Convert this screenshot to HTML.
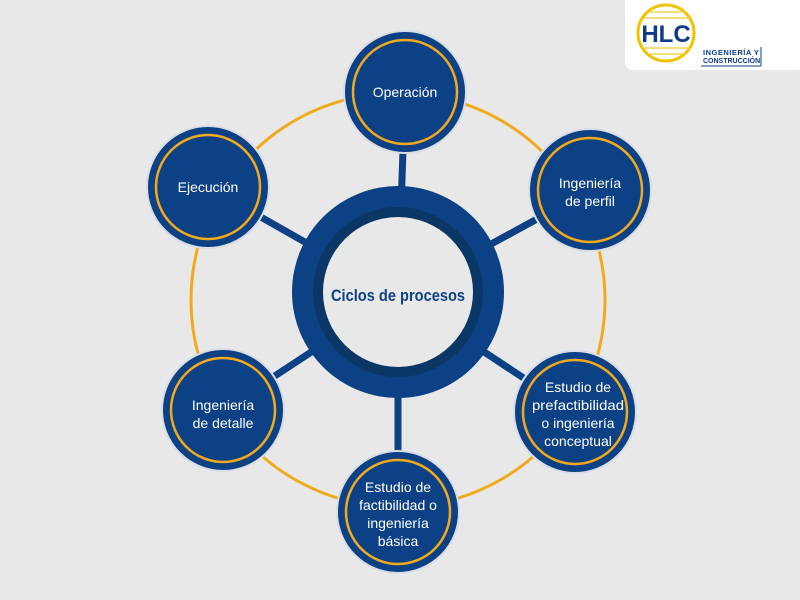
<!DOCTYPE html>
<html><head><meta charset="utf-8"><style>
body{margin:0;background:#e8e8e8;}
svg{display:block}
text{font-family:"Liberation Sans",sans-serif;}
</style></head><body>
<svg width="800" height="600" viewBox="0 0 800 600" xmlns="http://www.w3.org/2000/svg">
<rect width="800" height="600" fill="#e8e8e8"/>
<circle cx="398" cy="300" r="207" fill="none" stroke="#f2aa1c" stroke-width="3"/>
<g stroke="#0d4185" stroke-width="7">
<line x1="398" y1="295" x2="405" y2="92"/>
<line x1="398" y1="295" x2="590" y2="190"/>
<line x1="398" y1="295" x2="208" y2="187"/>
<line x1="398" y1="295" x2="223" y2="410"/>
<line x1="398" y1="295" x2="398" y2="512"/>
<line x1="398" y1="295" x2="575" y2="412"/>
</g>
<circle cx="398" cy="292" r="106" fill="#0d4185"/>
<circle cx="398" cy="292" r="85" fill="#0b3766"/>
<circle cx="398" cy="292" r="75" fill="#e8e8e8"/>
<text x="398" y="301" text-anchor="middle" font-size="17" font-weight="bold" fill="#0d4185" textLength="134" lengthAdjust="spacingAndGlyphs">Ciclos de procesos</text>
<g fill="#0d4185" stroke="#d8dde6" stroke-width="2">
<circle cx="405" cy="92" r="61"/><circle cx="590" cy="190" r="61"/><circle cx="208" cy="187" r="61"/>
<circle cx="223" cy="410" r="61"/><circle cx="398" cy="512" r="61"/><circle cx="575" cy="412" r="61"/>
</g>
<g fill="none" stroke="#f2aa1c" stroke-width="2.5">
<circle cx="405" cy="92" r="52"/><circle cx="590" cy="190" r="52"/><circle cx="208" cy="187" r="52"/>
<circle cx="223" cy="410" r="52"/><circle cx="398" cy="512" r="52"/><circle cx="575" cy="412" r="52"/>
</g>
<g fill="#fff" font-size="14" text-anchor="middle">
<text x="405" y="97">Operación</text>
<text x="590" y="188">Ingeniería</text><text x="590" y="206">de perfil</text>
<text x="208" y="192">Ejecución</text>
<text x="223" y="410">Ingeniería</text><text x="223" y="428">de detalle</text>
<text x="398" y="492">Estudio de</text><text x="398" y="510">factibilidad o</text><text x="398" y="528">ingeniería</text><text x="398" y="546">básica</text>
<text x="578" y="392">Estudio de</text><text x="578" y="410" textLength="92" lengthAdjust="spacingAndGlyphs">prefactibilidad</text><text x="578" y="428">o ingeniería</text><text x="578" y="446">conceptual</text>
</g>
<rect x="625" y="-10" width="180" height="80" rx="8" fill="#fff"/>
<circle cx="666" cy="33" r="28" fill="#fff" stroke="#f2c200" stroke-width="3"/>
<g stroke="#f4d24a" stroke-width="1.5">
<line x1="650" y1="12" x2="684" y2="12"/><line x1="644" y1="18" x2="690" y2="18"/><line x1="642" y1="48" x2="690" y2="48"/><line x1="648" y1="54" x2="686" y2="54"/>
</g>
<text x="666" y="42" text-anchor="middle" font-size="24" font-weight="bold" fill="#0d3b8a">HLC</text>
<text x="703" y="55" font-size="7.5" font-weight="bold" fill="#0d3b8a" letter-spacing="0.5">INGENIERÍA Y</text>
<text x="703" y="63" font-size="7" font-weight="bold" fill="#0d3b8a">CONSTRUCCIÓN</text>
<line x1="701" y1="66" x2="761" y2="66" stroke="#0d3b8a" stroke-width="1"/>
<line x1="761" y1="47" x2="761" y2="66" stroke="#0d3b8a" stroke-width="1"/>
</svg>
</body></html>
